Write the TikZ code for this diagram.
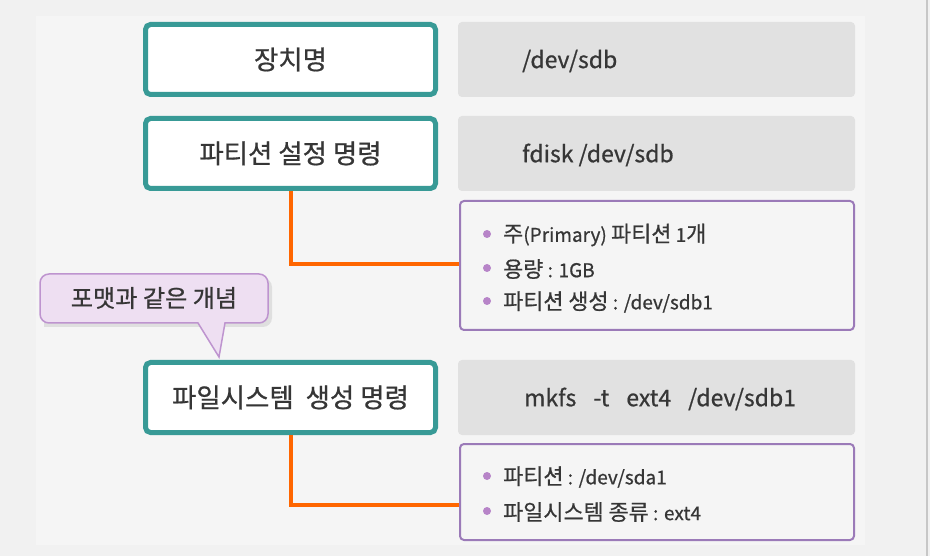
\documentclass[tikz,border=0pt]{standalone}
\usepackage{fontspec}
\setmainfont[FakeBold=0.7]{Noto Sans CJK KR}
\newfontfamily\hangfont[Scale=1.15,FakeBold=0.7]{Noto Sans CJK KR}
\newcommand\K[1]{{\hangfont #1}}
\usetikzlibrary{calc}
\definecolor{bgout}{HTML}{F1F1F1}
\definecolor{bgin}{HTML}{F5F5F5}
\definecolor{tealc}{HTML}{389A96}
\definecolor{grayfill}{HTML}{E1E1E1}
\definecolor{purpc}{HTML}{9B7AB8}
\definecolor{bulc}{HTML}{B784C8}
\definecolor{callfill}{HTML}{EEDFF2}
\definecolor{callline}{HTML}{BE94CF}
\definecolor{orangec}{HTML}{FF6600}
\definecolor{txtc}{HTML}{363636}
\tikzset{
  tealbox/.style={draw=tealc, line width=5pt, fill=white, rounded corners=5pt,
    minimum width=290pt, minimum height=70pt, inner sep=0pt, text=txtc,
    font=\fontsize{23}{26}\selectfont},
  graybox/.style={fill=grayfill, rounded corners=4pt, minimum width=397pt,
    minimum height=75pt, inner sep=0pt},
  purpbox/.style={draw=purpc, line width=2pt, fill=bgin, rounded corners=4pt,
    minimum width=394pt, inner sep=0pt},
  cmdtext/.style={anchor=west, text=txtc, font=\fontsize{23}{26}\selectfont, inner sep=0pt},
  bultext/.style={anchor=west, text=txtc, font=\fontsize{19}{22}\selectfont, inner sep=0pt},
  bulletdot/.style={circle, fill=bulc, minimum size=8pt, inner sep=0pt},
  orangeline/.style={draw=orangec, line width=4pt},
  calltext/.style={text=txtc, font=\fontsize{21}{24}\selectfont, inner sep=0pt}
}
\begin{document}
\begin{tikzpicture}[x=1pt, y=-1pt]
\useasboundingbox (0,0) rectangle (930,556);
\fill[bgout] (0,0) rectangle (930,556);
\fill[bgin] (36,16) rectangle (865,545);
\draw[color=black!22, line width=1.5pt] (927,0) -- (927,556);

% row 1
\node[tealbox] (n1) at (290.5,59.5) {\K{장치명}};
\node[graybox] (g1) at (656.5,59.5) {};
\node[cmdtext] (c1) at (522,61) {/dev/sdb};

% row 2
\node[tealbox] (n2) at (290.5,153.5) {\K{파티션 설정 명령}};
\node[graybox] (g2) at (656.5,153.5) {};
\node[cmdtext] (c2) at (522,155) {fdisk /dev/sdb};

\node[purpbox, minimum height=129pt] (p1) at (657,265.5) {};
\node[bulletdot] (b11) at (487,234) {};
\node[bultext] (t11) at (503,235) {\K{주}(Primary) \K{파티션} 1\K{개}};
\node[bulletdot] (b12) at (487,268) {};
\node[bultext] (t12) at (503,269) {\K{용량} : 1GB};
\node[bulletdot] (b13) at (487,301) {};
\node[bultext] (t13) at (503,302) {\K{파티션 생성} : /dev/sdb1};

\coordinate (j1) at (459,264);
\draw[orangeline] (n2.south) |- (j1);

% callout
\draw[fill=black!18, draw=none, opacity=0.6] (44,278) [rounded corners=9pt] -- (272,278) -- (272,327) [sharp corners] -- (44,327) -- cycle;
\draw[fill=callfill, draw=callline, line width=1.5pt]
  (40,274) [rounded corners=9pt] -- (268,274) -- (268,323) [sharp corners] -- (225,323) -- (219,357) -- (198,323) [rounded corners=9pt] -- (40,323) -- cycle;
\node[calltext] (k1) at (154,298) {\K{포맷과 같은 개념}};

% row 3
\node[tealbox] (n3) at (290.5,397.5) {\K{파일시스템\ \ 생성 명령}};
\node[graybox] (g3) at (656.5,397.5) {};
\node[cmdtext] (c3) at (524,399) {mkfs\hspace{17pt}-t\hspace{17pt}ext4\hspace{17pt}/dev/sdb1};

\node[purpbox, minimum height=96pt] (p2) at (657,492) {};
\node[bulletdot] (b21) at (487,476) {};
\node[bultext] (t21) at (503,477) {\K{파티션} : /dev/sda1};
\node[bulletdot] (b22) at (487,511) {};
\node[bultext] (t22) at (503,512) {\K{파일시스템 종류} : ext4};

\coordinate (j2) at (459,505);
\draw[orangeline] (n3.south) |- (j2);
\end{tikzpicture}
\end{document}
